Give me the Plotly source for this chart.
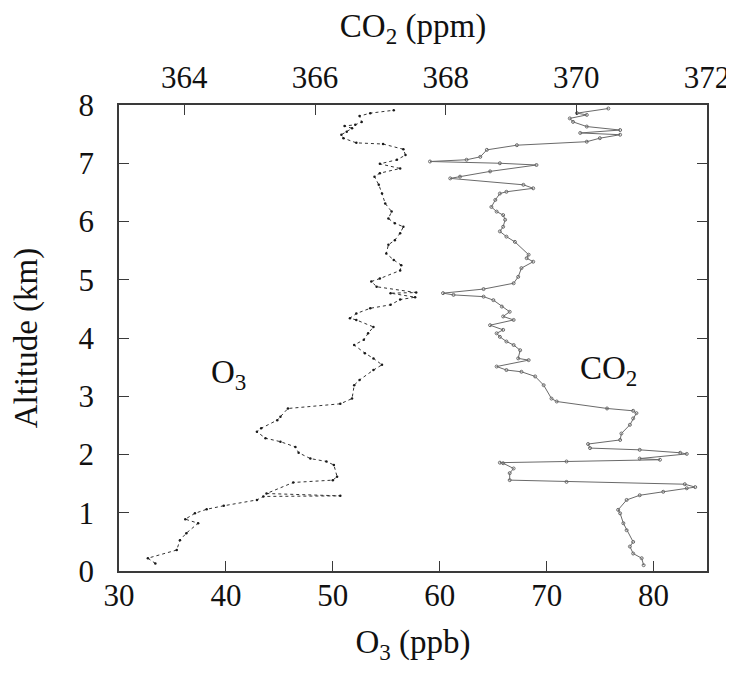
import plotly.graph_objects as go

# O3 profile (ppb) vs altitude (km)
o3_alt = [0.13, 0.22, 0.36, 0.53, 0.65, 0.82, 0.89, 0.99, 1.06, 1.12, 1.22, 1.28, 1.29, 1.33,
          1.52, 1.56, 1.62, 1.82, 1.88, 1.93, 2.03, 2.13, 2.22, 2.28, 2.39, 2.45, 2.59, 2.65,
          2.79, 2.87, 2.96, 3.19, 3.28, 3.45, 3.54, 3.65, 3.74, 3.88, 3.97, 4.08, 4.19, 4.31,
          4.34, 4.42, 4.51, 4.57, 4.66, 4.70, 4.77, 4.78, 4.88, 4.97, 5.02, 5.16, 5.25, 5.34,
          5.45, 5.60, 5.68, 5.80, 5.91, 5.97, 6.05, 6.17, 6.31, 6.48, 6.63, 6.77, 6.83, 6.91,
          6.99, 7.06, 7.14, 7.24, 7.33, 7.35, 7.43, 7.49, 7.54, 7.60, 7.64, 7.66, 7.71, 7.81,
          7.86, 7.91]
o3_ppb = [33.4, 32.7, 35.4, 35.7, 36.3, 37.4, 36.2, 37.1, 38.2, 39.8, 42.9, 43.5, 50.7, 43.8,
          46.3, 50.0, 50.4, 50.1, 49.4, 47.9, 46.8, 46.5, 45.1, 43.7, 42.9, 43.3, 44.8, 45.1,
          45.8, 50.7, 51.8, 52.0, 52.5, 53.8, 54.6, 53.8, 53.0, 52.0, 52.9, 53.3, 53.8, 52.2,
          51.6, 52.2, 53.5, 55.4, 56.3, 57.7, 55.4, 57.8, 54.1, 53.6, 54.4, 56.3, 56.4, 55.7,
          55.0, 55.2, 55.8, 56.3, 56.6, 55.8, 55.2, 55.5, 54.9, 54.6, 54.3, 53.9, 54.4, 56.3,
          54.4, 56.0, 56.8, 56.6, 54.7, 52.2, 51.0, 50.8, 51.3, 51.8, 51.1, 52.1, 52.7, 52.5,
          53.5, 55.7]

# CO2 profile (ppm) vs altitude (km)
co2_alt = [0.10, 0.22, 0.30, 0.42, 0.50, 0.70, 0.82, 0.99, 1.05, 1.22, 1.30, 1.36, 1.42, 1.44,
           1.49, 1.53, 1.56, 1.68, 1.76, 1.85, 1.86, 1.88, 1.91, 1.93, 2.01, 2.03, 2.08, 2.11,
           2.18, 2.25, 2.36, 2.51, 2.62, 2.71, 2.75, 2.79, 2.91, 2.96, 3.19, 3.34, 3.42, 3.45,
           3.51, 3.62, 3.65, 3.79, 3.88, 3.94, 4.02, 4.08, 4.14, 4.22, 4.31, 4.37, 4.45, 4.54,
           4.65, 4.71, 4.74, 4.77, 4.84, 4.94, 5.05, 5.20, 5.31, 5.37, 5.43, 5.65, 5.74, 5.83,
           5.91, 6.03, 6.11, 6.17, 6.25, 6.37, 6.48, 6.51, 6.57, 6.63, 6.74, 6.77, 6.86, 6.97,
           7.00, 7.03, 7.06, 7.11, 7.23, 7.31, 7.37, 7.43, 7.49, 7.52, 7.57, 7.63, 7.71, 7.77,
           7.83, 7.86, 7.94]
co2_ppm = [371.03, 371.00, 370.87, 370.82, 370.87, 370.77, 370.72, 370.67, 370.64, 370.77,
           370.97, 371.33, 371.69, 371.82, 371.66, 369.85, 368.98, 368.98, 369.04, 368.88,
           368.83, 369.85, 371.28, 370.97, 371.69, 371.59, 370.97, 370.21, 370.18, 370.67,
           370.69, 370.82, 370.87, 370.92, 370.87, 370.47, 369.70, 369.62, 369.50, 369.37,
           369.16, 368.93, 368.78, 369.27, 369.11, 369.14, 369.04, 368.93, 368.83, 368.78,
           368.88, 368.68, 369.04, 368.88, 368.98, 368.86, 368.73, 368.58, 368.12, 367.96,
           368.58, 369.04, 369.11, 369.16, 369.34, 369.24, 369.27, 369.06, 368.93, 368.83,
           368.88, 368.91, 368.88, 368.78, 368.70, 368.76, 368.83, 368.93, 369.34, 369.19,
           368.07, 368.22, 368.68, 369.39, 368.83, 367.76, 368.32, 368.53, 368.63, 369.09,
           370.16, 370.36, 370.67, 370.06, 370.67, 370.16, 369.95, 369.90, 370.16, 370.01,
           370.49]

o3_ticks = [30, 40, 50, 60, 70, 80]
co2_ticks = [364, 366, 368, 370, 372]
alt_ticks = [0, 1, 2, 3, 4, 5, 6, 7, 8]

FONT = "'Liberation Serif', 'Times New Roman', Times, serif"
AX = "#3a3a3a"
TXT = "#111111"

fig = go.Figure()
fig.add_trace(go.Scatter(
    x=o3_ppb, y=o3_alt, mode="lines+markers", xaxis="x", yaxis="y",
    line=dict(color="#333333", width=1, dash="dot"),
    marker=dict(size=2.5, color="#1a1a1a"), showlegend=False))
fig.add_trace(go.Scatter(
    x=co2_ppm, y=co2_alt, mode="lines+markers", xaxis="x2", yaxis="y",
    line=dict(color="#6a6a6a", width=1),
    marker=dict(size=3, symbol="circle-open", line=dict(color="#808080", width=1)),
    showlegend=False))

axis_common = dict(showgrid=False, zeroline=False, showline=True, linecolor=AX, linewidth=1.5,
                   ticks="inside", ticklen=10, tickwidth=1.2, tickcolor=AX, automargin=False,
                   tickfont=dict(family=FONT, size=31, color=TXT))

# page body has an 8px margin, so the figure is sized to fit the 734x675 window
fig.update_layout(
    width=726, height=667,
    margin=dict(l=111, r=27, t=97, b=104),
    paper_bgcolor="white", plot_bgcolor="white",
    font=dict(family=FONT, color=TXT),
    xaxis=dict(range=[30, 85], tickvals=o3_ticks, side="bottom",
               title=dict(text="O<sub>3</sub> (ppb)", font=dict(family=FONT, size=33, color=TXT), standoff=18),
               ticklabelstandoff=-4, **axis_common),
    xaxis2=dict(range=[363, 372], tickvals=co2_ticks, side="top", overlaying="x",
                title=dict(text="CO<sub>2</sub> (ppm)", font=dict(family=FONT, size=33, color=TXT), standoff=16),
                ticklabelstandoff=3, anchor="y", **axis_common),
    yaxis=dict(range=[0, 8], tickvals=alt_ticks, mirror="ticks",
               title=dict(text="Altitude (km)", font=dict(family=FONT, size=33, color=TXT), standoff=40),
               ticklabelstandoff=17, **axis_common),
    annotations=[
        dict(x=40.2, y=3.38, xref="x", yref="y", text="O<sub>3</sub>", showarrow=False,
             font=dict(family=FONT, size=33, color=TXT)),
        dict(x=75.8, y=3.45, xref="x", yref="y", text="CO<sub>2</sub>", showarrow=False,
             font=dict(family=FONT, size=33, color=TXT)),
    ],
)

fig.write_html("out.html")
